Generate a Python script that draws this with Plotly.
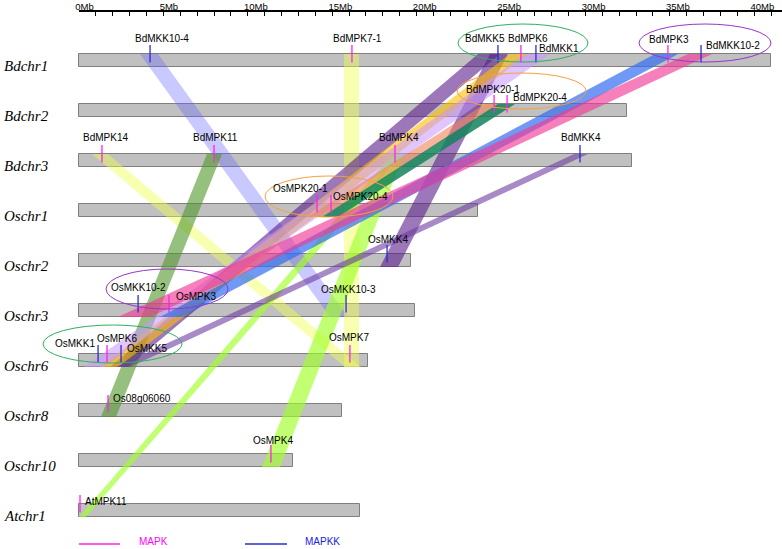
import plotly.graph_objects as go

# ---------------- data ----------------
chromosomes = ["Bdchr1", "Bdchr2", "Bdchr3", "Oschr1", "Oschr2",
               "Oschr3", "Oschr6", "Oschr8", "Oschr10", "Atchr1"]
chrom_lengths = [41.0, 32.46, 32.76, 23.64, 19.67, 19.91, 17.12, 15.58, 12.68, 16.65]

gene_names = ["BdMKK10-4", "BdMPK7-1", "BdMKK5", "BdMPK6", "BdMKK1", "BdMPK3", "BdMKK10-2",
              "BdMPK20-1", "BdMPK20-4",
              "BdMPK14", "BdMPK11", "BdMPK4", "BdMKK4",
              "OsMPK20-1", "OsMPK20-4",
              "OsMKK4",
              "OsMKK10-2", "OsMPK3", "OsMKK10-3",
              "OsMKK1", "OsMPK6", "OsMKK5", "OsMPK7",
              "Os08g06060",
              "OsMPK4",
              "AtMPK11"]
gene_chroms = ["Bdchr1"] * 7 + ["Bdchr2"] * 2 + ["Bdchr3"] * 4 + ["Oschr1"] * 2 + ["Oschr2"] + \
              ["Oschr3"] * 3 + ["Oschr6"] * 4 + ["Oschr8"] + ["Oschr10"] + ["Atchr1"]
gene_pos = [4.21, 16.17, 24.82, 26.18, 27.07, 34.89, 36.85,
            24.59, 25.36,
            1.36, 8.00, 18.72, 29.68,
            14.10, 14.93,
            18.25,
            3.50, 5.33, 15.82,
            1.13, 1.66, 2.49, 16.05,
            1.72,
            11.37,
            0.06]
gene_types = ["MAPKK", "MAPK", "MAPKK", "MAPK", "MAPKK", "MAPK", "MAPKK",
              "MAPK", "MAPK",
              "MAPK", "MAPK", "MAPK", "MAPKK",
              "MAPK", "MAPK",
              "MAPKK",
              "MAPKK", "MAPK", "MAPKK",
              "MAPKK", "MAPK", "MAPKK", "MAPK",
              "MAPK",
              "MAPK",
              "MAPK"]

# syntenic blocks (Mb)
link_chrom_a = ["Bdchr1", "Bdchr1", "Bdchr3", "Bdchr3", "Bdchr3", "Bdchr3", "Bdchr1", "Bdchr1",
                "Bdchr1", "Bdchr1", "Bdchr2", "Bdchr2", "Bdchr1", "Bdchr1", "Bdchr3"]
link_start_a = [3.61, 15.70, 0.77, 7.58, 18.31, 18.54, 24.35, 23.64, 25.53, 26.42, 24.05, 24.82, 34.12, 36.08, 29.33]
link_end_a = [4.68, 16.59, 1.72, 8.47, 19.25, 19.14, 25.41, 24.94, 26.60, 27.90, 24.94, 25.83, 35.49, 37.50, 30.15]
link_chrom_b = ["Oschr3", "Oschr6", "Oschr6", "Oschr8", "Oschr10", "Atchr1", "Oschr2", "Oschr6",
                "Oschr6", "Oschr6", "Oschr1", "Oschr1", "Oschr3", "Oschr3", "Oschr6"]
link_start_b = [14.87, 15.70, 15.76, 1.30, 10.84, 0.00, 17.83, 1.84, 1.24, 0.30, 13.57, 14.40, 4.80, 2.31, 2.19]
link_end_b = [15.94, 16.59, 16.71, 2.19, 11.91, 0.41, 18.90, 2.90, 2.31, 1.48, 14.45, 15.34, 6.10, 4.21, 3.02]

tick_values = [0, 5, 10, 15, 20, 25, 30, 35, 40]
tick_labels = ["0Mb", "5Mb", "10Mb", "15Mb", "20Mb", "25Mb", "30Mb", "35Mb", "40Mb"]
legend_labels = ["MAPK", "MAPKK"]

ellipse_groups = [["BdMKK5", "BdMPK6", "BdMKK1"], ["BdMPK3", "BdMKK10-2"],
                  ["BdMPK20-1", "BdMPK20-4"], ["OsMPK20-1", "OsMPK20-4"],
                  ["OsMKK10-2", "OsMPK3"], ["OsMKK1", "OsMPK6", "OsMKK5"]]

# ---------------- style ----------------
PX_PER_MB = 16.88
PX_PER_ROW = 50.0
W, H = 782, 549
LEFT_PX = 79
TOP_PX = 12
ROW0_PX = 60.5
BAR_H = 13 / PX_PER_ROW

link_colors = ["rgba(100,100,255,0.35)", "rgba(240,255,80,0.45)", "rgba(240,255,80,0.45)",
               "rgba(80,150,40,0.6)", "rgba(160,255,40,0.65)", "rgba(160,255,40,0.65)",
               "rgba(90,30,140,0.6)", "rgba(90,30,140,0.6)", "rgba(255,190,0,0.6)",
               "rgba(200,150,255,0.55)", "rgba(240,130,90,0.6)", "rgba(20,130,90,0.85)",
               "rgba(50,110,240,0.7)", "rgba(240,60,150,0.65)", "rgba(110,60,160,0.6)"]
type_colors = {"MAPK": "#ff22ee", "MAPKK": "#2b2bd6"}
legend_text_colors = {"MAPK": "#ff00ff", "MAPKK": "#2020e8"}

# label offsets (px): dx, dy, anchor
label_style = {
    "BdMKK10-4": (11.5, -22.5, "center"), "BdMPK7-1": (5.5, -22.5, "center"),
    "BdMKK5": (-12.5, -22.5, "center"), "BdMPK6": (7.5, -22.5, "center"),
    "BdMKK1": (23.5, -12.5, "center"), "BdMPK3": (1, -21.5, "center"),
    "BdMKK10-2": (32, -15.5, "center"),
    "BdMPK20-1": (-1, -21.5, "center"), "BdMPK20-4": (32.5, -13.5, "center"),
    "BdMPK14": (3.5, -23.5, "center"), "BdMPK11": (1.5, -23.5, "center"),
    "BdMPK4": (4, -23.5, "center"), "BdMKK4": (1, -23.5, "center"),
    "OsMPK20-1": (-17, -22.5, "center"), "OsMPK20-4": (29, -14.5, "center"),
    "OsMKK4": (0.5, -21.5, "center"),
    "OsMKK10-2": (0, -23.5, "center"), "OsMPK3": (27.5, -14.5, "center"),
    "OsMKK10-3": (2, -21.5, "center"),
    "OsMKK1": (-23, -17.5, "center"), "OsMPK6": (10, -22.5, "center"),
    "OsMKK5": (25.5, -12.5, "center"), "OsMPK7": (-1, -23.5, "center"),
    "Os08g06060": (3, -12.5, "left"), "OsMPK4": (2.5, -20.5, "center"),
    "AtMPK11": (3, -9.5, "left"),
}
# ellipse style: dx, dy from group centre (px), rx, ry (px), colour
ellipse_style = [(4.7, -17.5, 65, 19, "#2fb060"), (20.5, -17.5, 66, 19, "#9933cc"),
                 (21, -19.5, 64.5, 18, "#f5a040"), (5, -14, 64, 20.5, "#f5a040"),
                 (13.5, -21.5, 61, 20, "#9933cc"), (3.8, -16.5, 69.5, 19, "#2fb060")]

def mb(px):
    return px / PX_PER_MB

def rows(px):
    return px / PX_PER_ROW

row_of = {c: i for i, c in enumerate(chromosomes)}

fig = go.Figure()

# chromosome bars
fig.add_trace(go.Bar(
    y=list(range(len(chromosomes))), x=chrom_lengths, base=0, orientation="h",
    width=BAR_H, marker=dict(color="#c0c0c0", line=dict(color="#7f7f7f", width=1)),
    hoverinfo="skip", showlegend=False))

# synteny ribbons
for i in range(len(link_chrom_a)):
    ra, rb = row_of[link_chrom_a[i]], row_of[link_chrom_b[i]]
    ya = ra - BAR_H / 2
    yb = rb + BAR_H / 2
    xs = [link_start_a[i], link_end_a[i], link_end_b[i], link_start_b[i], link_start_a[i]]
    ys = [ya, ya, yb, yb, ya]
    fig.add_trace(go.Scatter(x=xs, y=ys, mode="lines", fill="toself",
                             fillcolor=link_colors[i], line=dict(width=0),
                             hoverinfo="skip", showlegend=False))

# gene markers
for t in ["MAPK", "MAPKK"]:
    xs, ys = [], []
    for n, c, p, gt in zip(gene_names, gene_chroms, gene_pos, gene_types):
        if gt != t:
            continue
        r = row_of[c]
        xs += [p, p, None]
        ys += [r - rows(15.5), r + rows(2), None]
    fig.add_trace(go.Scatter(x=xs, y=ys, mode="lines",
                             line=dict(color=type_colors[t], width=1.3),
                             hoverinfo="skip", showlegend=False))

annotations = []
# gene labels
for n, c, p in zip(gene_names, gene_chroms, gene_pos):
    dx, dy, anc = label_style[n]
    annotations.append(dict(x=p + mb(dx), y=row_of[c] + rows(dy), text=n, xref="x", yref="y",
                            showarrow=False, xanchor=anc, yanchor="middle",
                            font=dict(family="Liberation Sans, Arial, sans-serif", size=10, color="black")))

# chromosome labels
for i, c in enumerate(chromosomes):
    annotations.append(dict(x=mb(2 - LEFT_PX), y=i + rows(5), text="<i>" + c + "</i>",
                            xref="x", yref="y", showarrow=False, xanchor="left", yanchor="middle",
                            font=dict(family="Liberation Serif, Times New Roman, serif", size=15,
                                      color="black")))

# ellipses
shapes = []
for grp, (dx, dy, rx, ry, col) in zip(ellipse_groups, ellipse_style):
    idx = [gene_names.index(g) for g in grp]
    cx = sum(gene_pos[k] for k in idx) / len(idx) + mb(dx)
    cy = row_of[gene_chroms[idx[0]]] + rows(dy)
    shapes.append(dict(type="circle", xref="x", yref="y", x0=cx - mb(rx), x1=cx + mb(rx),
                       y0=cy - rows(ry), y1=cy + rows(ry), line=dict(color=col, width=1),
                       fillcolor="rgba(0,0,0,0)", layer="above"))

# custom legend
legend_y = rows(544 - ROW0_PX)
legend_line_x = [(0.0, mb(41)), (mb(166), mb(208))]
legend_text_x = [mb(58), mb(224)]
for lab, (x0, x1), tx in zip(legend_labels, legend_line_x, legend_text_x):
    fig.add_trace(go.Scatter(x=[x0, x1], y=[legend_y, legend_y], mode="lines",
                             line=dict(color=type_colors[lab], width=1.3),
                             hoverinfo="skip", showlegend=False))
    annotations.append(dict(x=tx, y=legend_y - rows(2.5), text=lab, xref="x", yref="y",
                            showarrow=False, xanchor="left", yanchor="middle",
                            font=dict(family="Liberation Sans, Arial, sans-serif", size=10,
                                      color=legend_text_colors[lab])))

# dummy trace so the scale axis subplot is drawn
fig.add_trace(go.Scatter(x=[0], y=[-0.5], xaxis="x2", yaxis="y", mode="markers",
                         marker=dict(opacity=0), hoverinfo="skip", showlegend=False))

x_min = mb(-LEFT_PX)
x_max = mb(W - LEFT_PX)
y_top = -rows(ROW0_PX - TOP_PX)
y_bot = y_top + rows(H - TOP_PX)

fig.update_layout(
    width=W, height=H, margin=dict(l=0, r=0, t=TOP_PX, b=0, pad=0, autoexpand=False),
    paper_bgcolor="white", plot_bgcolor="rgba(0,0,0,0)",
    xaxis=dict(range=[x_min, x_max], visible=False, domain=[0, 1], automargin=False),
    xaxis2=dict(range=[0, x_max], domain=[LEFT_PX / W, 1], anchor="y", side="top",
                automargin=False,
                showline=True, linecolor="black", linewidth=1.5, ticks="inside", ticklen=4,
                tickcolor="black", tickwidth=1, tickvals=tick_values, ticktext=tick_labels,
                ticklabelposition="outside right", ticklabelshift=-5, ticklabelstandoff=-4,
                tickfont=dict(family="Liberation Sans, Arial, sans-serif", size=9.5, color="black"),
                minor=dict(dtick=1, tick0=0, ticks="inside", ticklen=4, tickcolor="black", tickwidth=1),
                showgrid=False, zeroline=False),
    yaxis=dict(range=[y_bot, y_top], visible=False, domain=[0, 1], automargin=False),
    shapes=shapes, annotations=annotations, bargap=0,
)

fig.write_html("out.html", config={"displayModeBar": False},
               post_script="document.body.style.margin='0px';document.body.style.overflow='hidden';")
